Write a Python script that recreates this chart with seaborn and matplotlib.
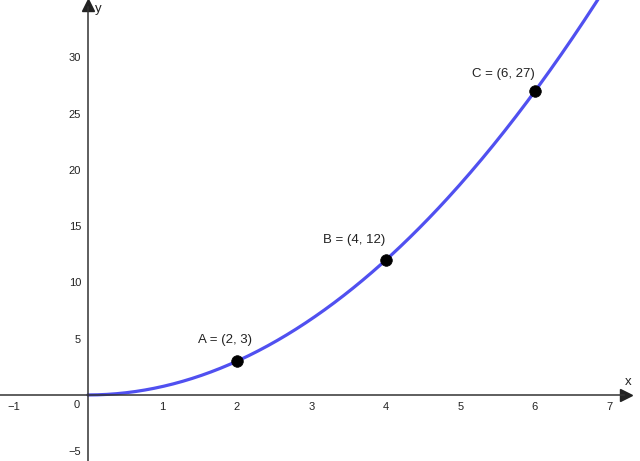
import numpy as np
import pandas as pd
import seaborn as sns
import matplotlib.pyplot as plt

# function y = a * x^2 (passes through A, B, C)
coef = 0.75
x_start, x_end = 0, 7.6

# labelled points
names = ['A', 'B', 'C']
px = [2, 4, 6]
py = [3, 12, 27]

# tick positions
xticks = [-1, 1, 2, 3, 4, 5, 6, 7]
yticks = [-5, 5, 10, 15, 20, 25, 30]

sns.set_style('white')
plt.rcParams['font.family'] = ['Liberation Sans', 'DejaVu Sans']

fig = plt.figure(figsize=(6.4, 4.61), dpi=100)
ax = fig.add_axes([0, 0, 1, 1])

xs = np.linspace(x_start, x_end, 300)
curve = pd.DataFrame({'x': xs, 'y': coef * xs ** 2})
sns.lineplot(data=curve, x='x', y='y', color='#5050f0', linewidth=2.3, ax=ax)

pts = pd.DataFrame({'x': px, 'y': py, 'name': names})
sns.scatterplot(data=pts, x='x', y='y', color='black', s=70, zorder=5, ax=ax,
                edgecolor='black', linewidth=0.5)

offsets = {'A': (-12, 21), 'B': (-32, 20), 'C': (-32, 17)}
for n, x, y in zip(names, px, py):
    ax.annotate(f'{n} = ({x}, {y})', (x, y), xytext=offsets[n],
                textcoords='offset pixels', ha='center', va='center',
                fontsize=9.5, color='#222222')

ax.set_xlim(-1.18, 7.41)
ax.set_ylim(-5.87, 35.1)

# axes through origin, GeoGebra style
for s in ['top', 'right']:
    ax.spines[s].set_visible(False)
ax.spines['left'].set_position(('data', 0))
ax.spines['bottom'].set_position(('data', 0))
ax.spines['left'].set_bounds(-5.87, 34.5)
ax.spines['bottom'].set_bounds(-1.18, 7.2)
for s in ['left', 'bottom']:
    ax.spines[s].set_color('#333333')
    ax.spines[s].set_linewidth(1.1)

ax.plot(7.22, 0, marker='>', color='#222222', markersize=8, clip_on=False)
ax.plot(0, 34.7, marker='^', color='#222222', markersize=8, clip_on=False)

ax.set_xticks(xticks)
ax.set_yticks(yticks)
ax.set_xticklabels([f'{t}'.replace('-', '\u2212') for t in xticks])
ax.set_yticklabels([f'{t}'.replace('-', '\u2212') for t in yticks])
ax.tick_params(axis='both', direction='inout', length=4, width=1,
               color='#333333', labelsize=8, labelcolor='#222222', pad=3)
ax.text(-0.15, -0.9, '0', ha='center', va='center', fontsize=8, color='#222222')

ax.text(7.25, 0.6, 'x', ha='center', va='bottom', fontsize=9.5, color='#222222')
ax.text(0.1, 34.3, 'y', ha='left', va='center', fontsize=9.5, color='#222222')

ax.set_xlabel('')
ax.set_ylabel('')

fig.savefig('out.png', dpi=100)
